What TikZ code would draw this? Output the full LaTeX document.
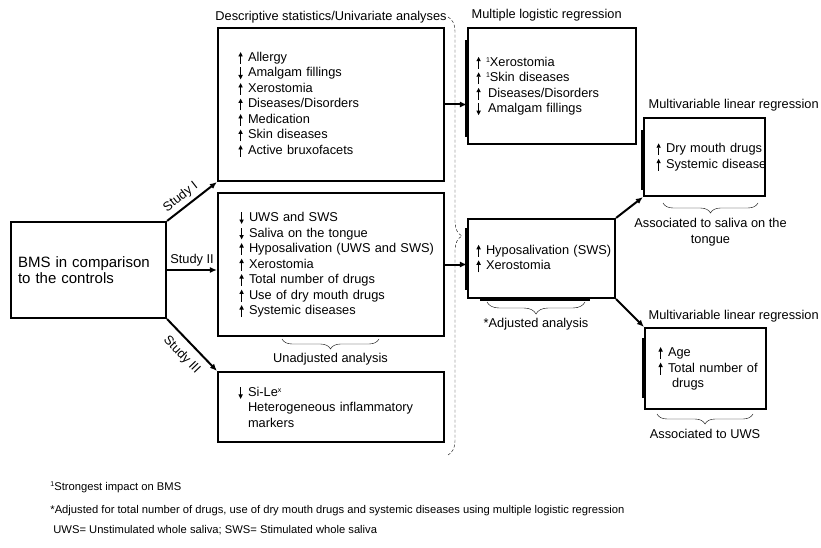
\documentclass[tikz,border=0pt]{standalone}
\usepackage{fontspec}
\setmainfont{Liberation Sans}
\usetikzlibrary{positioning,arrows.meta,decorations.pathreplacing}
\newcommand{\uarr}[1]{\tikz[baseline=0pt]\draw[line width=0.9pt,#1] (0pt,-2.5pt) -- (0pt,9.5pt);}
\newcommand{\ua}{\makebox[11pt][l]{\hspace{1.5pt}\uarr{-{Triangle[length=4.5pt,width=4.2pt]}}}}
\newcommand{\da}{\makebox[11pt][l]{\hspace{1.5pt}\uarr{{Triangle[length=4.5pt,width=4.2pt]}-}}}
\newcommand{\na}{\hspace*{11pt}}
\newcommand{\sups}[1]{\raisebox{4pt}{\fontsize{7}{7}\selectfont #1}}

\begin{document}
\begin{tikzpicture}[x=1pt, y=-1pt, thick,
    txt/.style = {font=\fontsize{12.8}{15.5}\selectfont},
    box/.style = {draw, txt, line width=2.2pt, align=left, inner ysep=0pt},
    heavy/.style = {line width=3.6pt},
    arr/.style = {line width=2pt, -{Latex[length=7pt,width=6pt]}},
    brc/.style = {decorate, decoration={brace, mirror, amplitude=#1}, thin},
    brc/.default = 10pt,
    note/.style = {font=\fontsize{11.2}{13}\selectfont, anchor=west, inner sep=0pt}]
    \useasboundingbox (0,0) rectangle (821,548);

    % left side
    \node[box, minimum width=155, minimum height=96, text width=141, font=\fontsize{15}{16.5}\selectfont] (bms) at (88.5,270) {BMS in comparison\\to the controls};
    \node[box, minimum width=226, minimum height=153, text width=188] (s1) at (331,104.5)
        {\ua Allergy\\ \da Amalgam fillings\\ \ua Xerostomia\\ \ua Diseases/Disorders\\ \ua Medication\\ \ua Skin diseases\\ \ua Active bruxofacets};
    \node[box, minimum width=226, minimum height=143, text width=186] (s2) at (331,264.5)
        {\da UWS and SWS\\ \da Saliva on the tongue\\ \ua\mbox{Hyposalivation (UWS and SWS)}\\ \ua Xerostomia\\ \ua Total number of drugs\\ \ua Use of dry mouth drugs\\ \ua Systemic diseases};
    \node[box, minimum width=226, minimum height=70, text width=188] (s3) at (331,407)
        {\da Si-Le\sups{x}\\ \na\mbox{Heterogeneous inflammatory}\\ \na markers};
    \node[txt, above=0pt of s1] (t1) {Descriptive statistics/Univariate analyses};

    % right side
    \node[box, minimum width=168, minimum height=116, text width=154] (lr) at (552,86)
        {\ua\sups{1}Xerostomia\\ \ua\sups{1}Skin diseases\\ \ua\,Diseases/Disorders\\ \da\,Amalgam fillings};
    \node[box, minimum width=147, minimum height=79, text width=133] (hy) at (541.5,258.5)
        {\ua\mbox{Hyposalivation (SWS)}\\ \ua Xerostomia};
    \node[box, minimum width=121, minimum height=78, text width=99] (dm) at (704.5,157)
        {\ua\mbox{Dry mouth drugs}\\ \ua\mbox{Systemic disease}};
    \node[box, minimum width=121, minimum height=81, text width=97] (ag) at (705.5,368.5)
        {\ua Age\\ \ua\mbox{Total number of}\\ \na\hspace*{4pt}drugs};
    \node[txt, above right=2pt and 1pt of lr.north west] (t2) {Multiple logistic regression};
    \node[txt, above right=2pt and 2pt of dm.north west] (t3) {Multivariable linear regression};
    \node[txt, above right=1pt and 1pt of ag.north west] (t4) {Multivariable linear regression};

    % overlapping edge strokes
    \draw[heavy] (467,40) -- (467,137);
    \draw[heavy] (467,228) -- (467,290);
    \draw[heavy] (480,299) -- (590,299);
    \draw[heavy] (643,130) -- (643,190);
    \draw[heavy] (644,338) -- (644,398);

    % connectors
    \draw[arr] (bms.north east) -- (s1.south west) node [txt, pos=0.4, sloped, above] {Study I};
    \draw[arr] (bms.east) -- (bms.east -| s2.west) node [txt, midway, above] {Study II};
    \draw[arr] (bms.south east) -- (s3.north west) node [txt, pos=0.5, sloped, below=4pt] {Study III};
    \draw[arr] (s1.east) -- (s1.east -| lr.west);
    \draw[arr] (s2.east) -- (s2.east -| hy.west);
    \draw[arr] (hy.north east) -- (dm.south west);
    \draw[arr] (hy.south east) -- (ag.north west);

    % braces
    \draw[decorate, decoration={brace, amplitude=14pt}, thin, densely dashed] (448,17) -- (448,455);
    \draw[brc] (282,339) -- (379,339) node [txt, midway, below=11pt] (u1) {Unadjusted analysis};
    \draw[brc=12pt] (487,302) -- (585,302) node [txt, midway, below=13pt] (u2) {*Adjusted analysis};
    \draw[brc] (663,203) -- (758,203) node [txt, midway, below=12pt, align=center] (u3) {Associated to saliva on the\\tongue};
    \draw[brc] (657,414) -- (753,414) node [txt, midway, below=12pt] (u4) {Associated to UWS};

    % footnotes
    \node[note] (f1) at (50,487) {\sups{1}Strongest impact on BMS};
    \node[note] (f2) at (50,511) {*Adjusted for total number of drugs, use of dry mouth drugs and systemic diseases using multiple logistic regression};
    \node[note] (f3) at (53,530) {UWS= Unstimulated whole saliva; SWS= Stimulated whole saliva};
\end{tikzpicture}
\end{document}
